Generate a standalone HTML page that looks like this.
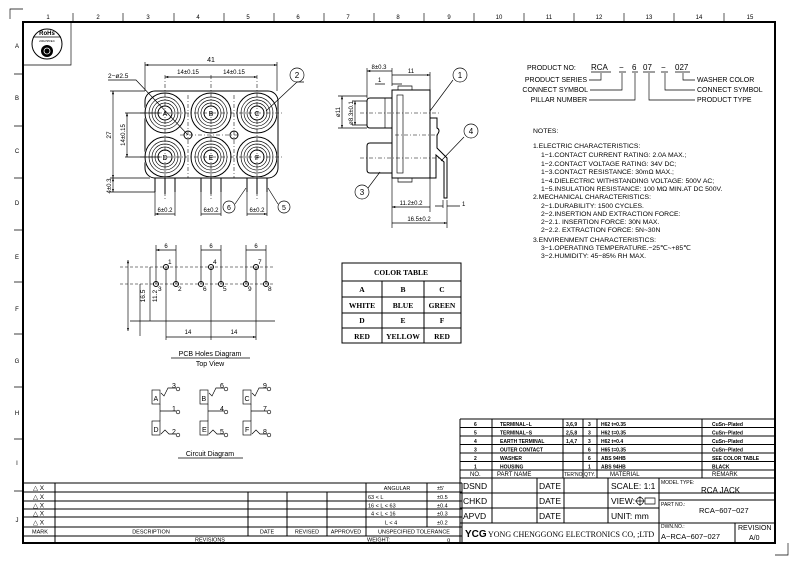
<!DOCTYPE html>
<html><head><meta charset="utf-8"><style>
html,body{margin:0;padding:0;background:#fff}
svg{display:block}
text{font-family:"Liberation Sans",sans-serif;fill:#000}
text.sf{font-family:"Liberation Serif",serif}
.s{stroke:#000;fill:none;stroke-width:1}
.t{stroke:#000;fill:none;stroke-width:.65}
.d{stroke:#000;fill:none;stroke-width:.55;stroke-dasharray:4 2 1 2}
.dd{stroke:#000;fill:none;stroke-width:.6;stroke-dasharray:3 2}
</style></head><body>
<svg width="800" height="565" viewBox="0 0 800 565" xmlns="http://www.w3.org/2000/svg">
<defs>
<g id="jack"><circle r="20" class="s"/><circle r="16" class="t"/><circle r="13" class="t"/><circle r="10" class="t"/><circle r="7" class="s"/></g>
<marker id="a" viewBox="0 0 6 6" refX="6" refY="3" markerWidth="5" markerHeight="5" orient="auto-start-reverse"><path d="M0,1 L6,3 L0,5z" fill="#000"/></marker>
</defs>
<!-- frame -->
<rect x="23" y="22" width="752" height="521" fill="none" stroke="#000" stroke-width="2"/>
<path d="M10,19 V9 H23 M775,555 H788 V543" class="t"/>
<g font-size="6" text-anchor="middle">
<text x="48" y="19">1</text><text x="98" y="19">2</text><text x="148" y="19">3</text><text x="198" y="19">4</text><text x="248" y="19">5</text><text x="298" y="19">6</text><text x="348" y="19">7</text><text x="398" y="19">8</text><text x="449" y="19">9</text><text x="499" y="19">10</text><text x="549" y="19">11</text><text x="599" y="19">12</text><text x="649" y="19">13</text><text x="699" y="19">14</text><text x="750" y="19">15</text>
<text x="17" y="48">A</text><text x="17" y="100">B</text><text x="17" y="153">C</text><text x="17" y="205">D</text><text x="17" y="259">E</text><text x="17" y="311">F</text><text x="17" y="363">G</text><text x="17" y="415">H</text><text x="17" y="465">I</text><text x="17" y="522">J</text>
</g>
<path d="M73,13V22 M123,13V22 M174,13V22 M224,13V22 M274,13V22 M324,13V22 M374,13V22 M424,13V22 M474,13V22 M524,13V22 M574,13V22 M624,13V22 M674,13V22 M724,13V22 M14,74H23 M14,126H23 M14,178H23 M14,230H23 M14,282H23 M14,334H23 M14,387H23 M14,439H23 M14,491H23" class="t"/>
<!-- RoHS -->
<path d="M23,65 H71 V22" class="t"/>
<circle cx="47" cy="44" r="15" class="s"/>
<text x="47" y="35" font-size="6" text-anchor="middle" font-weight="bold">RoHs</text>
<line x1="33" y1="37" x2="61" y2="37" class="t"/>
<text x="47" y="42" font-size="3" text-anchor="middle">2002/95/EC</text>
<circle cx="47" cy="51" r="6" fill="#000"/><circle cx="47" cy="51" r="3" fill="none" stroke="#fff" stroke-width=".8"/>

<!-- front view -->
<rect x="145" y="91" width="133" height="87" rx="10" class="s"/>
<g fill="#fff"><circle cx="165" cy="113" r="21"/><circle cx="211" cy="113" r="21"/><circle cx="257" cy="113" r="21"/><circle cx="165" cy="157" r="21"/><circle cx="211" cy="157" r="21"/><circle cx="257" cy="157" r="21"/></g>
<use href="#jack" x="165" y="113"/><use href="#jack" x="211" y="113"/><use href="#jack" x="257" y="113"/>
<use href="#jack" x="165" y="157"/><use href="#jack" x="211" y="157"/><use href="#jack" x="257" y="157"/>
<g font-size="7" text-anchor="middle"><text x="165" y="116">A</text><text x="211" y="116">B</text><text x="257" y="116">C</text><text x="165" y="160">D</text><text x="211" y="160">E</text><text x="257" y="160">F</text></g>
<circle cx="188" cy="135" r="4" class="s"/><circle cx="234" cy="135" r="4" class="s"/>
<path d="M140,113H282 M140,157H282 M180,135H240 M165,75V200 M211,75V200 M257,75V200 M188,95V178 M234,95V178" class="d"/>
<path d="M145,91V62 M277,91V62" class="t"/>
<path d="M145,65H277" class="t" marker-start="url(#a)" marker-end="url(#a)"/>
<text x="211" y="62" font-size="7" text-anchor="middle">41</text>
<path d="M165,77H211 M211,77H257" class="t" marker-start="url(#a)" marker-end="url(#a)"/>
<text x="188" y="74" font-size="6" text-anchor="middle">14±0.15</text><text x="234" y="74" font-size="6" text-anchor="middle">14±0.15</text>
<text x="108" y="78" font-size="6.5">2−ø2.5</text>
<path d="M108,80H136 L188,135" class="t"/>
<circle cx="297" cy="75" r="7" class="t"/><text x="297" y="78" font-size="8" text-anchor="middle">2</text>
<path d="M304,82H297 L266,111" class="t"/>
<path d="M110,91H145 M125,113H160 M125,157H160 M110,178H150 M110,192H155" class="t"/>
<path d="M113,91V178" class="t" marker-start="url(#a)" marker-end="url(#a)"/>
<path d="M127,113V157" class="t" marker-start="url(#a)" marker-end="url(#a)"/>
<path d="M113,178V192" class="t" marker-start="url(#a)" marker-end="url(#a)"/>
<text transform="translate(111,135) rotate(-90)" font-size="6.5" text-anchor="middle">27</text>
<text transform="translate(125,135) rotate(-90)" font-size="6" text-anchor="middle">14±0.15</text>
<text transform="translate(111,186) rotate(-90)" font-size="6" text-anchor="middle">4±0.3</text>
<g class="s"><path d="M155,178V192 M165,178V194 M175,178V192 M201,178V192 M211,178V194 M221,178V192 M247,178V192 M257,178V194 M267,178V192"/></g>
<path d="M155,192V216 M175,192V216 M201,192V216 M221,192V216 M247,192V216 M267,192V216" class="t"/>
<path d="M155,214H175 M201,214H221 M247,214H267" class="t" marker-start="url(#a)" marker-end="url(#a)"/>
<g font-size="6" text-anchor="middle"><text x="165" y="212">6±0.2</text><text x="211" y="212">6±0.2</text><text x="257" y="212">6±0.2</text></g>
<circle cx="229" cy="207" r="6" class="t"/><text x="229" y="210" font-size="7" text-anchor="middle">6</text>
<circle cx="284" cy="207" r="6" class="t"/><text x="284" y="210" font-size="7" text-anchor="middle">5</text>
<path d="M235,204 L246,188 M278,204 L268,188" class="t"/>

<!-- side view -->
<rect x="392" y="90" width="38" height="88" class="s"/>
<rect x="397" y="95" width="6" height="78" class="t"/>
<path d="M398,90V86H412V90 M398,178V182H412V178" class="t"/>
<path d="M392,98H370Q367,98 367,101V125Q367,128 370,128H392" class="s"/>
<path d="M392,143H370Q367,143 367,146V170Q367,173 370,173H392" class="s"/>
<path d="M385,98V128" class="t"/>
<path d="M360,113H440 M360,158H440 M395,135H440" class="d"/>
<path d="M430,118H437V128Q441,130 437,135V148L447,158V198H444V162L436,155V178H430" class="s"/>
<path d="M367,98V68 M392,86V68 M430,90V72 M392,178V228 M430,178V212 M447,200V228 M443,200V208" class="t"/>
<path d="M367,71H392 M392,75H430" class="t" marker-start="url(#a)" marker-end="url(#a)"/>
<text x="379" y="69" font-size="6" text-anchor="middle">8±0.3</text><text x="411" y="73" font-size="6" text-anchor="middle">11</text>
<path d="M375,84H385 M392,84H402" class="t"/><text x="378" y="82" font-size="6">1</text>
<path d="M338,96H367 M338,128H367 M352,101H367 M352,125H367" class="t"/>
<path d="M342,96V128" class="t" marker-start="url(#a)" marker-end="url(#a)"/>
<path d="M355,101V125" class="t" marker-start="url(#a)" marker-end="url(#a)"/>
<text transform="translate(340,112) rotate(-90)" font-size="6" text-anchor="middle">ø11</text>
<text transform="translate(353,113) rotate(-90)" font-size="6" text-anchor="middle">ø8.3±0.1</text>
<path d="M392,207H430 M392,223H447" class="t" marker-start="url(#a)" marker-end="url(#a)"/>
<text x="411" y="205" font-size="6" text-anchor="middle">11.2±0.2</text><text x="419" y="221" font-size="6" text-anchor="middle">16.5±0.2</text>
<path d="M435,206H443 M447,206H460" class="t"/><text x="462" y="206" font-size="6">1</text>
<circle cx="460" cy="75" r="7" class="t"/><text x="460" y="78" font-size="8" text-anchor="middle">1</text>
<path d="M453,80L430,111" class="t"/>
<circle cx="471" cy="131" r="7" class="t"/><text x="471" y="134" font-size="8" text-anchor="middle">4</text>
<path d="M464,137L441,161" class="t"/>
<circle cx="362" cy="192" r="7" class="t"/><text x="362" y="195" font-size="8" text-anchor="middle">3</text>
<path d="M368,188L380,172" class="t"/>

<!-- PCB holes -->
<path d="M120,267H275 M120,284H275" class="dd"/>
<path d="M130,321H275 M140,284V336 M166,267V340 M211,267V340 M256,267V340" class="t"/>
<path d="M156,245V284 M176,245V284 M201,245V284 M221,245V284 M246,245V284 M266,245V284" class="t"/>
<path d="M156,250H176 M201,250H221 M246,250H266 M166,337H211 M211,337H256" class="t" marker-start="url(#a)" marker-end="url(#a)"/>
<g font-size="6" text-anchor="middle"><text x="166" y="248">6</text><text x="211" y="248">6</text><text x="256" y="248">6</text><text x="188" y="334">14</text><text x="234" y="334">14</text></g>
<g class="s"><circle cx="166" cy="267" r="2.5"/><circle cx="211" cy="267" r="2.5"/><circle cx="256" cy="267" r="2.5"/><circle cx="156" cy="284" r="2.5"/><circle cx="176" cy="284" r="2.5"/><circle cx="201" cy="284" r="2.5"/><circle cx="221" cy="284" r="2.5"/><circle cx="246" cy="284" r="2.5"/><circle cx="266" cy="284" r="2.5"/></g>
<g font-size="6.5"><text x="168" y="264">1</text><text x="213" y="264">4</text><text x="258" y="264">7</text><text x="158" y="291">3</text><text x="178" y="291">2</text><text x="203" y="291">6</text><text x="223" y="291">5</text><text x="248" y="291">9</text><text x="268" y="291">8</text></g>
<path d="M128,260V331" class="t" marker-start="url(#a)" marker-end="url(#a)"/>
<path d="M150,267V321" class="t"/>
<text transform="translate(145,296) rotate(-90)" font-size="6.5" text-anchor="middle">16.5</text>
<text transform="translate(157,296) rotate(-90)" font-size="6.5" text-anchor="middle">11.2</text>
<text x="210" y="356" font-size="7" text-anchor="middle">PCB Holes Diagram</text>
<line x1="171" y1="358" x2="250" y2="358" class="t"/>
<text x="210" y="366" font-size="7" text-anchor="middle">Top View</text>

<!-- circuit -->
<g class="t">
<rect x="152" y="390" width="8" height="14"/><rect x="152" y="421" width="8" height="14"/>
<rect x="200" y="390" width="8" height="14"/><rect x="200" y="421" width="8" height="14"/>
<rect x="243" y="390" width="8" height="14"/><rect x="243" y="421" width="8" height="14"/>
<path d="M160,404V421 M160,411H176 M208,404V421 M208,411H224 M251,404V421 M251,411H267"/>
<path d="M161,393L164,396L168,388H176 M209,393L212,396L216,388H224 M252,393L255,396L259,388H267"/>
<path d="M161,434L165,430L169,434H176 M209,434L213,430L217,434H224 M252,434L256,430L260,434H267"/>
<circle cx="178" cy="389" r="1.8"/><circle cx="178" cy="412" r="1.8"/><circle cx="178" cy="435" r="1.8"/>
<circle cx="226" cy="389" r="1.8"/><circle cx="226" cy="412" r="1.8"/><circle cx="226" cy="435" r="1.8"/>
<circle cx="269" cy="389" r="1.8"/><circle cx="269" cy="412" r="1.8"/><circle cx="269" cy="435" r="1.8"/>
</g>
<g font-size="7"><text x="153.5" y="401">A</text><text x="153.5" y="432">D</text><text x="201.5" y="401">B</text><text x="202" y="432">E</text><text x="244.5" y="401">C</text><text x="245" y="432">F</text>
<text x="172" y="388">3</text><text x="172" y="411">1</text><text x="172" y="434">2</text><text x="220" y="388">6</text><text x="220" y="411">4</text><text x="220" y="434">5</text><text x="263" y="388">9</text><text x="263" y="411">7</text><text x="263" y="434">8</text></g>
<text x="210" y="456" font-size="7" text-anchor="middle">Circuit Diagram</text>
<line x1="178" y1="458" x2="243" y2="458" class="t"/>

<!-- color table -->
<g class="s"><rect x="342" y="263" width="119" height="80"/><path d="M342,281H461 M342,297H461 M342,313H461 M342,328H461 M382,281V343 M424,281V343"/></g>
<g font-size="7.5" font-weight="bold" text-anchor="middle">
<text class="sf" x="401" y="275">COLOR TABLE</text>
<text class="sf" x="362" y="292">A</text><text class="sf" x="403" y="292">B</text><text class="sf" x="442" y="292">C</text>
<text class="sf" x="362" y="308">WHITE</text><text class="sf" x="403" y="308">BLUE</text><text class="sf" x="442" y="308">GREEN</text>
<text class="sf" x="362" y="323">D</text><text class="sf" x="403" y="323">E</text><text class="sf" x="442" y="323">F</text>
<text class="sf" x="362" y="339">RED</text><text class="sf" x="403" y="339">YELLOW</text><text class="sf" x="442" y="339">RED</text></g>

<!-- product no -->
<g font-size="7">
<text x="527" y="70">PRODUCT NO:</text>
<text x="591" y="70" font-size="8">RCA</text><text x="619" y="70" font-size="8">−</text><text x="632" y="70" font-size="8">6</text><text x="643" y="70" font-size="8">07</text><text x="661" y="70" font-size="8">−</text><text x="675" y="70" font-size="8">027</text>
<text x="587" y="82" text-anchor="end">PRODUCT SERIES</text><text x="588" y="92" text-anchor="end">CONNECT SYMBOL</text><text x="587" y="102" text-anchor="end">PILLAR NUMBER</text>
<text x="697" y="82">WASHER COLOR</text><text x="697" y="92">CONNECT SYMBOL</text><text x="697" y="102">PRODUCT TYPE</text>
</g>
<path d="M591,72H611 M619,72H626 M632,72H638 M643,72H655 M661,72H668 M675,72H690" class="t"/>
<path d="M589,80H601V73 M590,90H622V73 M589,100H635V73 M649,73V100H695 M665,73V90H695 M683,73V80H695" class="t"/>

<!-- notes -->
<g font-size="6.8">
<text x="533" y="133">NOTES:</text>
<text x="533" y="148">1.ELECTRIC CHARACTERISTICS:</text>
<text x="541" y="157">1−1.CONTACT CURRENT RATING: 2.0A MAX.;</text>
<text x="541" y="166">1−2.CONTACT VOLTAGE RATING: 34V DC;</text>
<text x="541" y="174">1−3.CONTACT RESISTANCE: 30mΩ MAX.;</text>
<text x="541" y="183">1−4.DIELECTRIC WITHSTANDING VOLTAGE: 500V AC;</text>
<text x="541" y="191">1−5.INSULATION RESISTANCE: 100 MΩ MIN.AT DC 500V.</text>
<text x="533" y="199">2.MECHANICAL CHARACTERISTICS:</text>
<text x="541" y="208">2−1.DURABILITY: 1500 CYCLES.</text>
<text x="541" y="216">2−2.INSERTION AND EXTRACTION FORCE:</text>
<text x="541" y="224">2−2.1. INSERTION FORCE:      30N MAX.</text>
<text x="541" y="232">2−2.2. EXTRACTION FORCE:  5N~30N</text>
<text x="533" y="242">3.ENVIRENMENT CHARACTERISTICS:</text>
<text x="541" y="250">3−1.OPERATING TEMPERATURE.−25℃~+85℃</text>
<text x="541" y="258">3−2.HUMIDITY: 45−85% RH MAX.</text>
</g>

<!-- parts table -->
<g class="s">
<path d="M460,419H775 M460,427.5H775 M460,436H775 M460,444.5H775 M460,453H775 M460,461.5H775 M460,470H775 M460,478H775 M460,493H775 M460,508H659 M460,523H775 M659,500H775"/>
<path d="M460,419V542 M492,419V523 M563,419V478 M583,419V478 M597,419V478 M702,419V478 M537,478V523 M564,478V523 M608,478V523 M659,478V542 M735,523V542"/>
</g>
<g font-size="5" font-weight="bold">
<text x="474" y="426">6</text><text x="500" y="426">TERMINAL−L</text><text x="566" y="426">3,6,9</text><text x="588" y="426">3</text><text x="601" y="426">H62  t=0.35</text><text x="712" y="426">CuSn−Plated</text>
<text x="474" y="434.5">5</text><text x="500" y="434.5">TERMINAL−S</text><text x="566" y="434.5">2,5,8</text><text x="588" y="434.5">3</text><text x="601" y="434.5">H62  t=0.35</text><text x="712" y="434.5">CuSn−Plated</text>
<text x="474" y="443">4</text><text x="500" y="443">EARTH TERMINAL</text><text x="566" y="443">1,4,7</text><text x="588" y="443">3</text><text x="601" y="443">H62  t=0.4</text><text x="712" y="443">CuSn−Plated</text>
<text x="474" y="451.5">3</text><text x="500" y="451.5">OUTER CONTACT</text><text x="588" y="451.5">6</text><text x="601" y="451.5">H65  t=0.35</text><text x="712" y="451.5">CuSn−Plated</text>
<text x="474" y="460">2</text><text x="500" y="460">WASHER</text><text x="588" y="460">6</text><text x="601" y="460">ABS  94HB</text><text x="712" y="460">SEE COLOR TABLE</text>
<text x="474" y="468.5">1</text><text x="500" y="468.5">HOUSING</text><text x="588" y="468.5">1</text><text x="601" y="468.5">ABS  94HB</text><text x="712" y="468.5">BLACK</text>
</g>
<g font-size="6"><text x="470" y="476">NO.</text><text x="497" y="476">PART  NAME</text><text x="564" y="476" font-size="5">TER'NO.</text><text x="584" y="476" font-size="5">QTY.</text><text x="610" y="476">MATERIAL</text><text x="712" y="476">REMARK</text></g>
<g font-size="8.5">
<text x="463" y="489">DSND</text><text x="539" y="489">DATE</text><text x="611" y="489">SCALE: 1:1</text>
<text x="463" y="504">CHKD</text><text x="539" y="504">DATE</text><text x="611" y="504">VIEW:</text>
<text x="463" y="519">APVD</text><text x="539" y="519">DATE</text><text x="611" y="519">UNIT:  mm</text>
</g>
<circle cx="640" cy="501" r="3.5" class="t"/><path d="M635,501H645 M640,496V506 M645,498H655V504H645z" class="t"/>
<g font-size="5"><text x="661" y="484">MODEL TYPE:</text><text x="661" y="506">PART NO.:</text><text x="661" y="528">DWN.NO.:</text></g>
<text x="701" y="493" font-size="8">RCA JACK</text>
<text x="699" y="513" font-size="7.5">RCA−607−027</text>
<text x="661" y="539" font-size="7.5">A−RCA−607−027</text>
<text x="738" y="530" font-size="7">REVISION</text><text x="749" y="540" font-size="7">A/0</text>
<text x="465" y="537" font-size="10" font-weight="bold">YCG</text>
<text class="sf" x="488" y="537" font-size="8">YONG CHENGGONG ELECTRONICS CO, ;LTD</text>

<!-- revisions -->
<g class="s">
<path d="M23,483H462 M23,492H462 M23,501H462 M23,509H462 M23,517H462 M23,527H462 M23,536H462"/>
<path d="M55,483V543 M248,492V536 M287,492V536 M327,492V536 M366,483V536 M427,483V527 M462,483V543"/>
</g>
<g font-size="6.5"><text x="33" y="490">△ X</text><text x="33" y="499">△ X</text><text x="33" y="507.5">△ X</text><text x="33" y="515.5">△ X</text><text x="33" y="524.5">△ X</text></g>
<g font-size="5.5"><text x="397" y="490" text-anchor="middle">ANGULAR</text><text x="437" y="490">±5'</text>
<text x="368" y="499">63 &lt;  L</text><text x="437" y="499">±0.5</text>
<text x="368" y="507.5">16 &lt;  L  &lt; 63</text><text x="437" y="507.5">±0.4</text>
<text x="371" y="515.5">4 &lt;  L  &lt; 16</text><text x="437" y="515.5">±0.3</text>
<text x="385" y="524.5">L  &lt; 4</text><text x="437" y="524.5">±0.2</text>
<text x="32" y="533.5">MARK</text><text x="151" y="533.5" text-anchor="middle">DESCRIPTION</text><text x="267" y="533.5" text-anchor="middle">DATE</text><text x="307" y="533.5" text-anchor="middle">REVISED</text><text x="346" y="533.5" text-anchor="middle">APPROVED</text><text x="414" y="533.5" text-anchor="middle">UNSPECIFIED TOLERANCE</text>
<text x="210" y="541.5" text-anchor="middle">REVISIONS</text><text x="367" y="541.5">WEIGHT:</text><text x="447" y="541.5">g</text></g>
</svg>
</body></html>
